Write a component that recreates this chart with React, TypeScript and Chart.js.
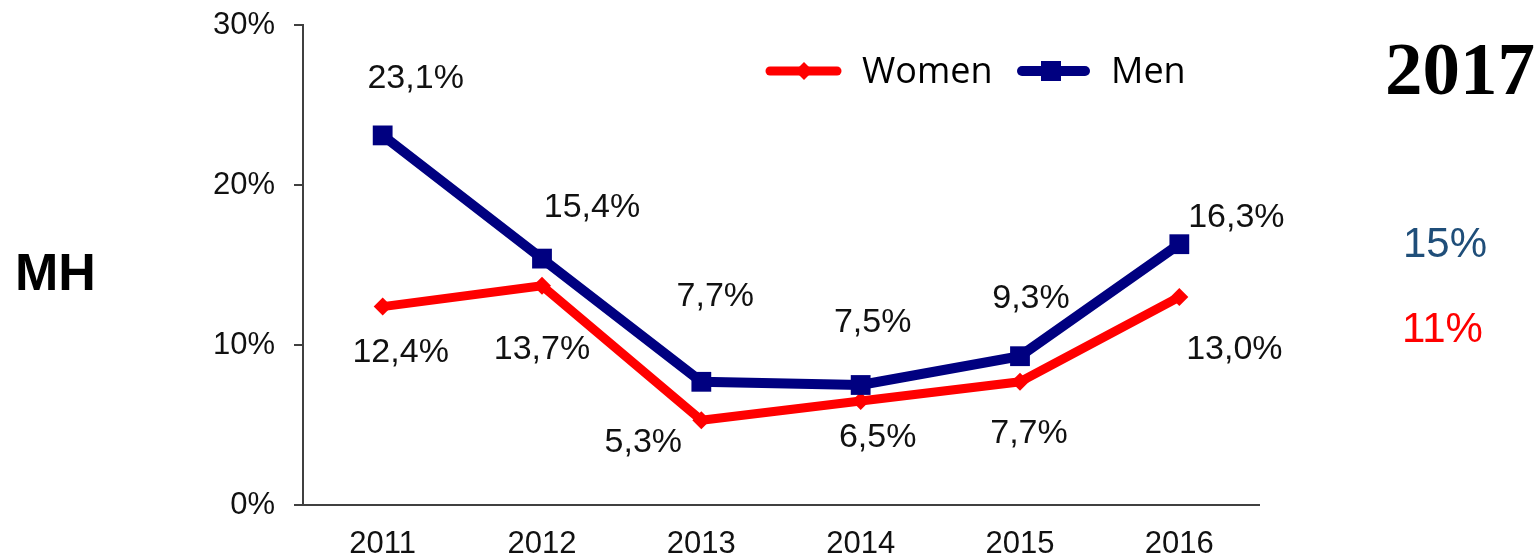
import React, { useEffect, useRef } from "react";
import { Chart, registerables } from "chart.js";

Chart.register(...registerables);

const years = ["2011", "2012", "2013", "2014", "2015", "2016"];
const women = [12.4, 13.7, 5.3, 6.5, 7.7, 13.0];
const men = [23.1, 15.4, 7.7, 7.5, 9.3, 16.3];
const yTicks = [0, 10, 20, 30];

// label offsets (px) from each point
const womenLabelOffsets = [[18, 46], [0, 64], [-58, 22], [17, 37], [9, 52], [55, 53]];
const menLabelOffsets = [[33, -57], [50, -51], [14, -85], [12, -62], [11, -58], [57, -27]];

const WOMEN_COLOR = "#FF0000";
const MEN_COLOR = "#000080";
const SANS = "'Liberation Sans', Arial, sans-serif";

const fmt = (v: number) => v.toFixed(1).replace(".", ",") + "%";

const labelPlugin = {
  id: "valueLabels",
  afterDatasetsDraw(chart: any) {
    const ctx = chart.ctx;
    ctx.save();
    ctx.font = `34px ${SANS}`;
    ctx.fillStyle = "#111";
    ctx.textAlign = "center";
    ctx.textBaseline = "middle";
    chart.data.datasets.forEach((ds: any, i: number) => {
      const meta = chart.getDatasetMeta(i);
      const offs = ds.label === "Women" ? womenLabelOffsets : menLabelOffsets;
      meta.data.forEach((pt: any, j: number) => {
        ctx.fillText(fmt(ds.data[j]), pt.x + offs[j][0], pt.y + offs[j][1]);
      });
    });
    ctx.restore();
  },
};

const legendPlugin = {
  id: "customLegend",
  afterDraw(chart: any) {
    const ctx = chart.ctx;
    ctx.save();
    const y = 71;
    // Women
    ctx.strokeStyle = WOMEN_COLOR;
    ctx.lineWidth = 9;
    ctx.lineCap = "round";
    ctx.beginPath();
    ctx.moveTo(770, y);
    ctx.lineTo(837, y);
    ctx.stroke();
    ctx.fillStyle = WOMEN_COLOR;
    ctx.beginPath();
    ctx.moveTo(804 - 9, y);
    ctx.lineTo(804, y - 9);
    ctx.lineTo(804 + 9, y);
    ctx.lineTo(804, y + 9);
    ctx.closePath();
    ctx.fill();
    // Men
    ctx.strokeStyle = MEN_COLOR;
    ctx.lineWidth = 10;
    ctx.beginPath();
    ctx.moveTo(1022, y);
    ctx.lineTo(1085, y);
    ctx.stroke();
    ctx.fillStyle = MEN_COLOR;
    ctx.fillRect(1041, y - 10, 20, 20);
    // Text
    ctx.fillStyle = "#000";
    ctx.font = `36px 'Open Sans', sans-serif`;
    ctx.textAlign = "left";
    ctx.textBaseline = "middle";
    ctx.fillText("Women", 862, y + 2);
    ctx.fillText("Men", 1111, y + 2);
    ctx.restore();
  },
};

export default function App() {
  const ref = useRef<HTMLCanvasElement | null>(null);

  useEffect(() => {
    if (!ref.current) return;
    const chart = new Chart(ref.current, {
      type: "line",
      data: {
        labels: years,
        datasets: [
          {
            label: "Women",
            data: women,
            borderColor: WOMEN_COLOR,
            backgroundColor: WOMEN_COLOR,
            borderWidth: 9,
            pointStyle: "rectRot",
            pointRadius: 9,
            pointBorderWidth: 0,
            pointBackgroundColor: WOMEN_COLOR,
            tension: 0,
            order: 2,
          },
          {
            label: "Men",
            data: men,
            borderColor: MEN_COLOR,
            backgroundColor: MEN_COLOR,
            borderWidth: 10,
            pointStyle: "rect",
            pointRadius: 14,
            pointBorderWidth: 0,
            pointBackgroundColor: MEN_COLOR,
            tension: 0,
            order: 1,
          },
        ],
      },
      options: {
        animation: false,
        responsive: false,
        devicePixelRatio: 1,
        layout: { padding: { left: 0, right: 279, top: 25, bottom: 0 } },
        plugins: {
          legend: { display: false },
          tooltip: { enabled: false },
        },
        scales: {
          x: {
            type: "category",
            offset: true,
            grid: { display: false, drawTicks: false, tickLength: 0 },
            border: { display: true, color: "#404040", width: 2 },
            ticks: {
              font: { family: SANS, size: 31 },
              color: "#111",
              padding: 21,
              maxRotation: 0,
            },
            afterFit(scale: any) {
              scale.height = 55;
              scale.paddingLeft = 0;
              scale.paddingRight = 0;
            },
          },
          y: {
            min: 0,
            max: 30,
            afterBuildTicks(scale: any) {
              scale.ticks = yTicks.map((v) => ({ value: v }));
            },
            grid: {
              drawOnChartArea: false,
              drawTicks: true,
              tickLength: 9,
              color: "#404040",
              lineWidth: 2,
            },
            border: { display: true, color: "#404040", width: 2 },
            ticks: {
              font: { family: SANS, size: 31 },
              color: "#111",
              padding: 19,
              callback: (v: any) => v + "%",
            },
            afterFit(scale: any) {
              scale.width = 303;
              scale.paddingTop = 0;
              scale.paddingBottom = 0;
            },
          },
        },
      },
      plugins: [labelPlugin, legendPlugin],
    });
    return () => chart.destroy();
  }, []);

  const abs = (extra: React.CSSProperties): React.CSSProperties => ({
    position: "absolute",
    lineHeight: 1,
    whiteSpace: "nowrap",
    margin: 0,
    ...extra,
  });

  return (
    <div style={{ position: "absolute", left: 0, top: 0, width: 1538, height: 560, background: "#fff" }}>
      <canvas ref={ref} width={1538} height={560} style={{ position: "absolute", left: 0, top: 0 }} />
      <div style={abs({ left: 15, top: 246, fontFamily: SANS, fontWeight: "bold", fontSize: 52, color: "#000" })}>MH</div>
      <div style={abs({ left: 1385, top: 31, fontFamily: "'Liberation Serif', 'Times New Roman', serif", fontWeight: "bold", fontSize: 75, color: "#000" })}>2017</div>
      <div style={abs({ left: 1403, top: 222, fontFamily: SANS, fontSize: 42, color: "#1F4E79" })}>15%</div>
      <div style={abs({ left: 1402, top: 307, fontFamily: SANS, fontSize: 42, color: "#FF0000" })}>11%</div>
    </div>
  );
}
